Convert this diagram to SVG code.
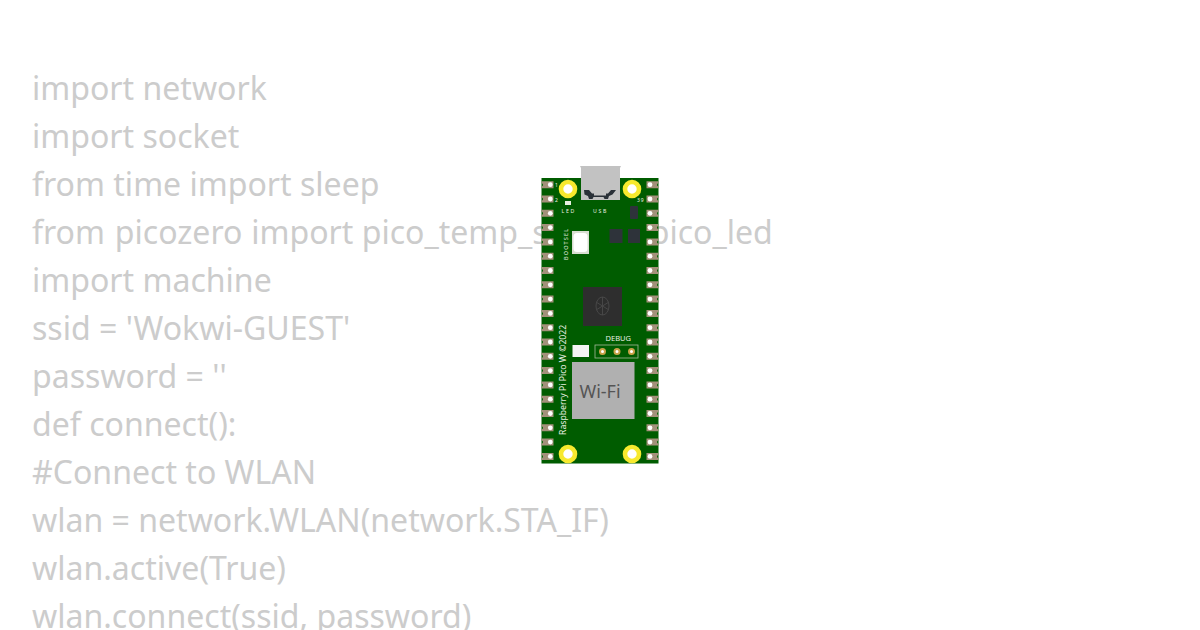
<svg xmlns="http://www.w3.org/2000/svg" width="1200" height="630" viewBox="0 0 1200 630">
<defs>
<style>
.code{font-family:"Noto Sans","Open Sans",sans-serif;font-size:32.05px;fill:#cccccc}
.silk{font-family:"Noto Sans","Liberation Sans",sans-serif;fill:#e8efe0}
.hole{fill:#ffffff;stroke:#f7e92e;stroke-width:4.600}
.chip{fill:#2e333a}
</style>
<g id="padL"><path d="M541.500-3.500H553.500V3.500H541.500V1.500A1.500 1.500 0 0 0 541.500-1.500Z" fill="#a3917a"/><circle cx="550.300" cy="0" r="2.400" fill="#fff"/></g>
<g id="padR"><path d="M658.500-3.500H646.500V3.500H658.500V1.500A1.500 1.500 0 0 1 658.500-1.500Z" fill="#a3917a"/><circle cx="650" cy="0" r="2.400" fill="#fff"/></g>
</defs>
<rect width="1200" height="630" fill="#fff"/>
<g id="code">
<text class="code" x="32" y="100">import network</text>
<text class="code" x="32" y="148">import socket</text>
<text class="code" x="32" y="196">from time import sleep</text>
<text class="code" x="32" y="244">from <tspan dx="1.500">picozero</tspan> <tspan dx="0.500">import pico_temp_sensor,</tspan> <tspan dx="4.500">pico_led</tspan></text>
<text class="code" x="32" y="292">import machine</text>
<text class="code" x="32" y="340">ssid = 'Wokwi-GUEST'</text>
<text class="code" x="32" y="388">password = ''</text>
<text class="code" x="32" y="436">def connect():</text>
<text class="code" x="32" y="484">#Connect to WLAN</text>
<text class="code" x="32" y="532">wlan = network.WLAN(network.STA_IF)</text>
<text class="code" x="32" y="580">wlan.active(True)</text>
<text class="code" x="32" y="628">wlan.connect(ssid, password)</text>
</g>
<g id="pico-board">
<rect x="541.500" y="178" width="117" height="285.500" fill="#005c00"/>
<g id="pins-left">
<use href="#padL" y="184.700"/><use href="#padL" y="199"/><use href="#padL" y="213.300"/><use href="#padL" y="227.600"/><use href="#padL" y="241.900"/><use href="#padL" y="256.200"/><use href="#padL" y="270.500"/><use href="#padL" y="284.800"/><use href="#padL" y="299.100"/><use href="#padL" y="313.400"/><use href="#padL" y="327.700"/><use href="#padL" y="342"/><use href="#padL" y="356.300"/><use href="#padL" y="370.600"/><use href="#padL" y="384.900"/><use href="#padL" y="399.200"/><use href="#padL" y="413.500"/><use href="#padL" y="427.800"/><use href="#padL" y="442.100"/><use href="#padL" y="456.400"/>
</g>
<g id="pins-right">
<use href="#padR" y="184.700"/><use href="#padR" y="199"/><use href="#padR" y="213.300"/><use href="#padR" y="227.600"/><use href="#padR" y="241.900"/><use href="#padR" y="256.200"/><use href="#padR" y="270.500"/><use href="#padR" y="284.800"/><use href="#padR" y="299.100"/><use href="#padR" y="313.400"/><use href="#padR" y="327.700"/><use href="#padR" y="342"/><use href="#padR" y="356.300"/><use href="#padR" y="370.600"/><use href="#padR" y="384.900"/><use href="#padR" y="399.200"/><use href="#padR" y="413.500"/><use href="#padR" y="427.800"/><use href="#padR" y="442.100"/><use href="#padR" y="456.400"/>
</g>
<circle class="hole" cx="568" cy="189" r="7"/>
<circle class="hole" cx="632" cy="189" r="7"/>
<circle class="hole" cx="568" cy="454" r="7"/>
<circle class="hole" cx="632" cy="454" r="7"/>
<g id="usb">
<path d="M580 166h41l-1 2v32h-39v-32z" fill="#c2c2c2"/>
<path d="M584 190h5l3 3.500h2v2h12v-2h2l3-3.500h5l-3.500 4.500-3.500 1.500-1 3h-3.500l-1-2h-10l-1 2h-3.500l-1-3-3.500-1.500z" fill="#2a3138"/>
</g>
<rect x="565" y="201" width="6" height="4" fill="#e8efe0"/>
<rect class="chip" x="630" y="206" width="8" height="13" rx="1"/>
<rect class="chip" x="609.500" y="229" width="13" height="14"/>
<rect class="chip" x="628" y="229" width="12" height="14"/>
<g id="bootsel"><rect x="572" y="231" width="17" height="23" fill="#d9ded2"/><rect x="573.500" y="233" width="14" height="19" rx="3.500" fill="#fff"/></g>
<rect x="583" y="287" width="39" height="39" fill="#2e2e2e"/>
<g id="logo" fill="none" stroke="#474747" stroke-width="1"><ellipse cx="602.500" cy="306" rx="6.500" ry="9"/><path d="M596 302l13 8M609 302l-13 8M602.500 297v18"/></g>
<rect x="572.500" y="345" width="16.500" height="12" fill="#f4f4f4"/>
<g id="debug">
<rect x="595" y="345" width="43" height="13" fill="none" stroke="#a5b89a" stroke-width="0.800"/>
<circle cx="602.500" cy="351.500" r="2.500" fill="#fff" stroke="#c9a24a" stroke-width="2"/>
<circle cx="617" cy="351.500" r="2.500" fill="#fff" stroke="#c9a24a" stroke-width="2"/>
<circle cx="631.500" cy="351.500" r="2.500" fill="#fff" stroke="#c9a24a" stroke-width="2"/>
<text class="silk" x="605.500" y="341" font-size="7.500">DEBUG</text>
</g>
<g id="wifi"><rect x="572" y="362" width="62.500" height="57" fill="#b0b0b0"/>
<text x="600" y="398" text-anchor="middle" font-family="'Noto Sans','Open Sans',sans-serif" font-size="18" fill="#555555">Wi-Fi</text></g>
<text class="silk" x="555" y="187" font-size="5">1</text>
<text class="silk" x="555" y="202" font-size="5">2</text>
<text class="silk" x="637" y="202" font-size="5" letter-spacing="1">39</text>
<text class="silk" x="561.500" y="212.500" font-size="5.200" letter-spacing="1.700">LED</text>
<text class="silk" x="593" y="212.500" font-size="5.200" letter-spacing="1.700">USB</text>
<text class="silk" transform="translate(568 260) rotate(-90)" font-size="5.500" letter-spacing="1.200">BOOTSEL</text>
<text class="silk" transform="translate(565.500 435) rotate(-90)" font-size="8.700">Raspberry Pi Pico W ©2022</text>
</g>
</svg>
